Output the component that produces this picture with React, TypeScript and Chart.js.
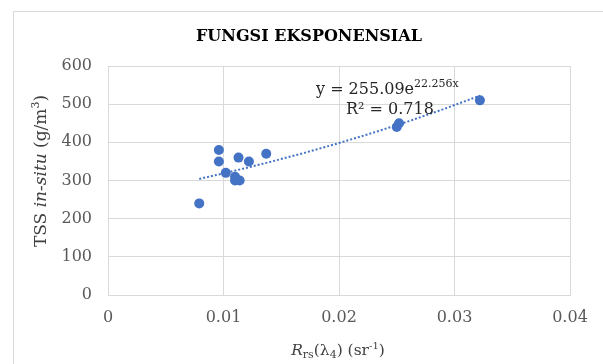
import React, { useEffect, useRef } from "react";
import { Chart, registerables } from "chart.js";

Chart.register(...registerables);

// ---- Data ----
const rrsValues = [0.0079, 0.0096, 0.0096, 0.0102, 0.011, 0.011, 0.0114, 0.0113, 0.0122, 0.0137, 0.025, 0.0252, 0.0322];
const tssValues = [240, 380, 350, 320, 310, 300, 300, 360, 350, 370, 440, 450, 510];
const xTickValues = [0, 0.01, 0.02, 0.03, 0.04];
const yTickValues = [0, 100, 200, 300, 400, 500, 600];
const trendA = 255.09;
const trendB = 22.256;
const trendX = [0.0079, 0.011, 0.014, 0.017, 0.02, 0.023, 0.026, 0.029, 0.0322];
const titleText = "FUNGSI EKSPONENSIAL";
const equationMain = "y = 255.09e";
const equationExp = "22.256x";
const r2Text = "R² = 0.718";

const FONT = "'DejaVu Serif', serif";
const BLUE = "#4472C4";
const GRID = "#d9d9d9";

type Seg = { t: string; size: number; italic?: boolean; bold?: boolean; dy?: number };

function drawRich(ctx: CanvasRenderingContext2D, segs: Seg[], x: number, y: number, align: "left" | "center", color: string) {
  const fontOf = (s: Seg) => `${s.italic ? "italic " : ""}${s.bold ? "bold " : ""}${s.size}px ${FONT}`;
  let total = 0;
  const widths = segs.map((s) => {
    ctx.font = fontOf(s);
    const w = ctx.measureText(s.t).width;
    total += w;
    return w;
  });
  let cx = align === "center" ? x - total / 2 : x;
  ctx.fillStyle = color;
  ctx.textBaseline = "alphabetic";
  ctx.textAlign = "left";
  segs.forEach((s, i) => {
    ctx.font = fontOf(s);
    ctx.fillText(s.t, cx, y + (s.dy || 0));
    cx += widths[i];
  });
}

const textPlugin = {
  id: "richText",
  afterDraw(chart: any) {
    const ctx: CanvasRenderingContext2D = chart.ctx;
    ctx.save();
    // Title
    drawRich(ctx, [{ t: titleText, size: 16, bold: true }], 309, 41, "center", "#000000");
    // Equation
    drawRich(ctx, [
      { t: equationMain, size: 16 },
      { t: equationExp, size: 11, dy: -7 },
    ], 316, 94, "left", "#262626");
    drawRich(ctx, [{ t: r2Text, size: 16 }], 346, 114, "left", "#262626");
    // X axis title
    drawRich(ctx, [
      { t: "R", size: 15.5, italic: true },
      { t: "rs", size: 11, dy: 3 },
      { t: "(λ", size: 15.5 },
      { t: "4", size: 11, dy: 3 },
      { t: ") (sr", size: 15.5 },
      { t: "-1", size: 10, dy: -6 },
      { t: ")", size: 15.5 },
    ], 338, 355, "center", "#404040");
    // Y axis title
    ctx.translate(46, 171);
    ctx.rotate(-Math.PI / 2);
    drawRich(ctx, [
      { t: "TSS ", size: 17 },
      { t: "in-situ", size: 17, italic: true },
      { t: " (g/m", size: 17 },
      { t: "3", size: 11, dy: -7 },
      { t: ")", size: 17 },
    ], 0, 0, "center", "#404040");
    ctx.restore();
  },
};

export default function App() {
  const ref = useRef<HTMLCanvasElement | null>(null);

  useEffect(() => {
    if (!ref.current) return;
    const points = rrsValues.map((x, i) => ({ x, y: tssValues[i] }));
    const trend = trendX.map((x) => ({ x, y: trendA * Math.exp(trendB * x) }));
    const chart = new Chart(ref.current, {
      type: "scatter",
      data: {
        datasets: [
          {
            label: "Trend",
            type: "line",
            data: trend,
            borderColor: BLUE,
            borderWidth: 2,
            borderDash: [2, 2],
            pointRadius: 0,
            fill: false,
            tension: 0,
            order: 2,
          } as any,
          {
            label: "TSS",
            data: points,
            backgroundColor: BLUE,
            borderColor: BLUE,
            pointRadius: 5,
            borderWidth: 0,
            order: 1,
          },
        ],
      },
      options: {
        animation: false,
        responsive: false,
        layout: { padding: { left: 0, top: 66, right: 33, bottom: 0 } },
        plugins: { legend: { display: false }, tooltip: { enabled: false }, title: { display: false } },
        scales: {
          x: {
            type: "linear",
            min: 0,
            max: 0.04,
            afterFit: (s: any) => { s.height = 69; },
            afterBuildTicks: (s: any) => { s.ticks = xTickValues.map((v) => ({ value: v })); },
            ticks: {
              padding: 13,
              color: "#595959",
              font: { family: FONT, size: 16 },
              callback: (v: any) => (v === 0 ? "0" : String(Number(v).toFixed(2))),
            },
            grid: { color: GRID, drawTicks: false, lineWidth: 1 },
            border: { color: GRID },
          },
          y: {
            type: "linear",
            min: 0,
            max: 600,
            afterFit: (s: any) => { s.width = 108; },
            afterBuildTicks: (s: any) => { s.ticks = yTickValues.map((v) => ({ value: v })); },
            ticks: {
              padding: 16,
              color: "#595959",
              font: { family: FONT, size: 16 },
            },
            grid: { color: GRID, drawTicks: false, lineWidth: 1 },
            border: { color: GRID },
          },
        },
      },
      plugins: [textPlugin],
    });
    return () => chart.destroy();
  }, []);

  return (
    <div style={{ position: "fixed", left: 0, top: 0, width: 603, height: 364, background: "#fff", overflow: "hidden" }}>
      <div style={{ position: "absolute", left: 13, top: 11, width: 640, height: 400, border: "1px solid #d9d9d9", boxSizing: "border-box" }} />
      <canvas ref={ref} width={603} height={364} style={{ position: "absolute", left: 0, top: 0, width: 603, height: 364 }} />
    </div>
  );
}
